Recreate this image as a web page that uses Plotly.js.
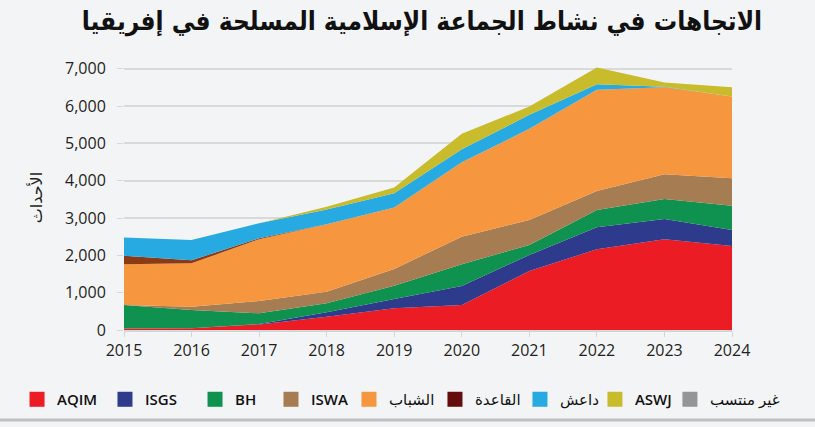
<!DOCTYPE html>
<html>
<head>
<meta charset="utf-8">
<script src="https://cdn.plot.ly/plotly-3.0.1.min.js"></script>
<style>html,body{margin:0;padding:0;background:#f3f4f6;}#chart{width:815px;height:427px;}</style>
</head>
<body>
<div id="chart"></div>
<script>
var years = [2015, 2016, 2017, 2018, 2019, 2020, 2021, 2022, 2023, 2024];
var seriesNames = ['AQIM', 'ISGS', 'BH', 'ISWA', 'الشباب', 'القاعدة', 'داعش', 'ASWJ', 'غير منتسب'];
var AQIM      = [40, 50, 150, 357, 582, 670, 1582, 2164, 2431, 2252];
var ISGS      = [0, 0, 10, 117, 249, 510, 429, 589, 545, 429];
var BH        = [630, 486, 288, 241, 357, 581, 268, 464, 536, 651];
var ISWA      = [0, 89, 329, 312, 447, 740, 670, 510, 662, 735];
var shabab    = [1091, 1163, 1654, 1807, 1644, 1995, 2440, 2707, 2332, 2188];
var qaeda     = [231, 81, 25, 0, 0, 0, 0, 0, 0, 0];
var daesh     = [483, 544, 405, 396, 386, 349, 375, 153, 9, 0];
var ASWJ      = [0, 0, 0, 70, 150, 410, 223, 445, 116, 252];
var unaffil   = [0, 0, 0, 0, 0, 0, 0, 0, 0, 0];
var yTicks = [0, 1000, 2000, 3000, 4000, 5000, 6000, 7000];

var seriesData = [AQIM, ISGS, BH, ISWA, shabab, qaeda, daesh, ASWJ, unaffil];
var areaColors = ['#ec1c24', '#2e3a8c', '#0f9150', '#a67c52', '#f6963e', '#8a3b16', '#27a9e1', '#c8bb2c', '#959595'];
var legendColors = ['#ec1c24', '#2e3a8c', '#0f9150', '#a67c52', '#f6963e', '#650d0d', '#27a9e1', '#c8bb2c', '#959595'];
// left edge (container fraction) of each legend entry
var legendX = [0.0209, 0.1288, 0.2393, 0.3325, 0.4282, 0.5337, 0.638, 0.730, 0.822];
var legendWeight = [600, 600, 600, 600, 400, 400, 400, 600, 400];

var traces = [];
seriesData.forEach(function (vals, i) {
  traces.push({
    type: 'scatter', mode: 'none', x: years, y: vals,
    stackgroup: 'one', fill: 'tonexty', fillcolor: areaColors[i],
    line: {width: 0}, name: seriesNames[i], showlegend: false, hoverinfo: 'skip'
  });
});
seriesNames.forEach(function (n, i) {
  traces.push({
    type: 'scatter', mode: 'markers', x: [null], y: [null], name: n,
    legend: i === 0 ? 'legend' : 'legend' + (i + 1),
    marker: {symbol: 'square', size: 15, color: legendColors[i]}, showlegend: true
  });
});

var fontFam = '"Open Sans", "DejaVu Sans", sans-serif';
var layout = {
  width: 815, height: 427,
  paper_bgcolor: '#f3f4f6', plot_bgcolor: '#f3f4f6',
  margin: {l: 124, r: 83, t: 65, b: 97},
  font: {family: fontFam, color: '#231f20'},
  title: {
    text: '<b>الاتجاهات في نشاط الجماعة الإسلامية المسلحة في إفريقيا</b>',
    font: {family: '"DejaVu Sans Condensed", "DejaVu Sans", sans-serif', size: 26, color: '#111'},
    x: 0.49, xref: 'paper', xanchor: 'center', y: 0.95, yanchor: 'middle'
  },
  xaxis: {
    range: [2015, 2024], tickvals: years, ticktext: years.map(String),
    showgrid: false, zeroline: false, showline: true, linecolor: '#d6d6d6', linewidth: 2,
    ticks: 'outside', ticklen: 5, tickcolor: '#d6d6d6', tickwidth: 1,
    tickfont: {size: 16, color: '#231f20'}
  },
  yaxis: {
    range: [0, 7100], tickvals: yTicks, tickformat: ',d',
    showgrid: true, gridcolor: '#d9d9d9', gridwidth: 2, zeroline: false,
    ticks: 'outside', ticklen: 6, tickcolor: '#d9d9d9', ticklabelstandoff: 8,
    tickfont: {size: 16, color: '#231f20'},
    title: {text: 'الأحداث', font: {size: 16, color: '#231f20'}, standoff: 18}
  },
  showlegend: true,
  shapes: [{
    type: 'line', xref: 'paper', yref: 'paper', x0: -0.21, x1: 1.14, y0: -0.34, y1: -0.34,
    line: {color: '#bfbfbf', width: 3}
  }]
};
legendX.forEach(function (lx, i) {
  var key = i === 0 ? 'legend' : 'legend' + (i + 1);
  layout[key] = {
    orientation: 'h', xref: 'container', yref: 'container',
    x: lx, xanchor: 'left', y: 0.103, yanchor: 'top',
    font: {size: 15, color: '#111', weight: legendWeight[i]}, bgcolor: 'rgba(0,0,0,0)'
  };
});
Plotly.newPlot('chart', traces, layout, {displayModeBar: false, staticPlot: true});
</script>
</body>
</html>
